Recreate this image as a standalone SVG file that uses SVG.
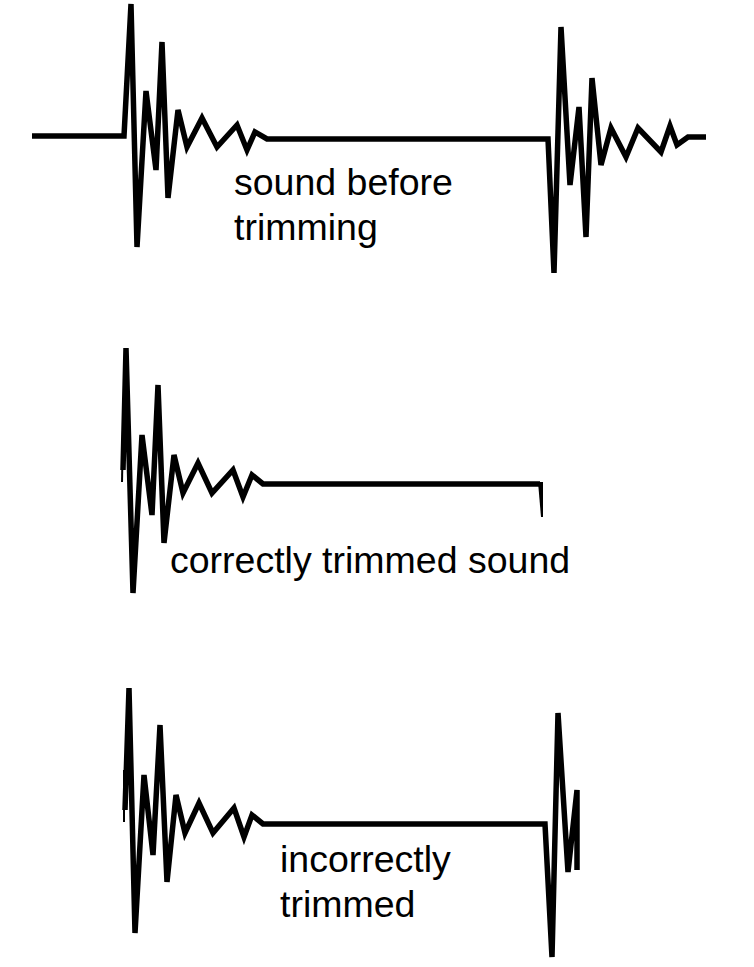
<svg xmlns="http://www.w3.org/2000/svg" width="754" height="967" viewBox="0 0 754 967">
<style>
.w{fill:none;stroke:#000;stroke-width:5.5;stroke-linejoin:miter;stroke-miterlimit:4;stroke-linecap:butt}
.t{font-family:"Liberation Sans",Arial,sans-serif;font-size:37.5px;fill:#000}
</style>
<rect width="754" height="967" fill="#fff"/>
<g id="before">
<polyline class="w" points="32,136 124,136 131,4 137,247 146,91 156,170 162,42 168,198 178,110 187,147 202,118 217,147 237,125 247,150 255,132 267,139 548,139 554,273 561,27 570,185 579,107 586,237 592,78 601,165 611,128 626,157 638,128 661,152 670,126 677,145 688,137 706,137"/>
<text class="t" x="234" y="195">sound before</text>
<text class="t" x="234" y="240">trimming</text>
</g>
<g id="correct">
<polyline class="w" points="123,470 126,348 133,593 142,435 152,515 158,385 164,543 174,455 183,493 198,463 212,493 233,470 243,497 252,475 263,484 540,484"/>
<path d="M538,482 L543,482 L543,517 L541,517 Z" fill="#000"/>
<path d="M122,430 L124,430 L123,482 L121,482 Z" fill="#000"/>
<text class="t" x="170" y="573">correctly trimmed sound</text>
</g>
<g id="incorrect">
<polyline class="w" points="125,810 129,688 135,933 144,775 153,855 160,725 167,882 176,795 185,833 199,803 213,833 234,808 244,837 252,815 263,824 545,824 552,957 558,713 568,872 577,790 577,870"/>
<path d="M123,770 L125,770 L125,822 L123,822 Z" fill="#000"/>
<text class="t" x="280" y="872">incorrectly</text>
<text class="t" x="280" y="917">trimmed</text>
</g>
</svg>
